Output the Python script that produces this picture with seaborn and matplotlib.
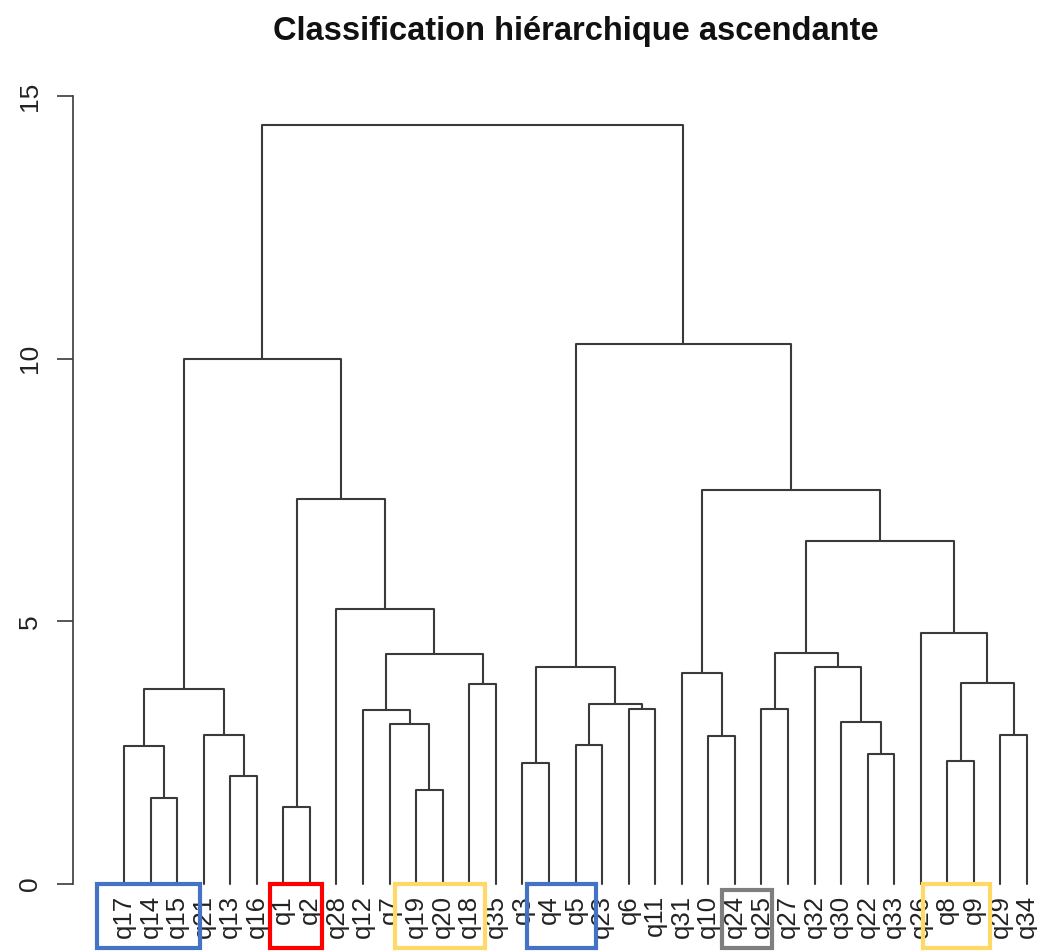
import pandas as pd
import numpy as np
import matplotlib
matplotlib.use("Agg")
import matplotlib.pyplot as plt
from matplotlib.patches import Rectangle
import seaborn as sns

# =============================================================================
# DATA: leaf order and merges of the hierarchical clustering
# =============================================================================
leaves = ["q17", "q14", "q15", "q21", "q13", "q16", "q1", "q2", "q28", "q12",
          "q7", "q19", "q20", "q18", "q35", "q3", "q4", "q5", "q23", "q6",
          "q11", "q31", "q10", "q24", "q25", "q27", "q32", "q30", "q22", "q33",
          "q26", "q8", "q9", "q29", "q34"]

# merge i creates node "n{i}" (left child, right child, height)
merge_left = ["q14", "q17", "q13", "q21", "n1", "q1", "q19", "q7", "q12", "q18",
              "n8", "q28", "n5", "n4", "q3", "q5", "q6", "n15", "n14", "q10",
              "q31", "q25", "q22", "q30", "q32", "n21", "q8", "q29", "n26", "q26",
              "n25", "n20", "n18", "n13"]
merge_right = ["q15", "n0", "q16", "n2", "n3", "q2", "q20", "n6", "n7", "q35",
               "n9", "n10", "n11", "n12", "q4", "q23", "q11", "n16", "n17", "q24",
               "n19", "q27", "q33", "n22", "n23", "n24", "q9", "q34", "n27", "n28",
               "n29", "n30", "n31", "n32"]
merge_height = [1.64, 2.63, 2.06, 2.84, 3.71, 1.47, 1.79, 3.05, 3.32, 3.81,
                4.38, 5.23, 7.33, 9.99, 2.30, 2.65, 3.33, 3.43, 4.14, 2.81,
                4.02, 3.33, 2.47, 3.09, 4.14, 4.39, 2.35, 2.84, 3.82, 4.78,
                6.53, 7.50, 10.28, 14.45]

# highlighted groups of leaves (first leaf, last leaf, colour)
box_first = ["q17", "q1", "q19", "q4", "q24", "q8"]
box_last = ["q15", "q2", "q18", "q5", "q25", "q9"]
box_color = ["#4472c4", "#ff0000", "#ffd966", "#4472c4", "#7f7f7f", "#ffd966"]

title = "Classification hi\u00e9rarchique ascendante"

# =============================================================================
# BUILD SEGMENTS
# =============================================================================
pos = {name: i + 1 for i, name in enumerate(leaves)}
height = {name: 0.0 for name in leaves}

rows = []
for i, (a, b, h) in enumerate(zip(merge_left, merge_right, merge_height)):
    xa, xb = pos[a], pos[b]
    pts = [(xa, height[a]), (xa, h), (xb, h), (xb, height[b])]
    for k, (x, y) in enumerate(pts):
        rows.append({"seg": i, "order": k, "x": x, "y": y})
    pos[f"n{i}"] = (xa + xb) / 2
    height[f"n{i}"] = h

segs = pd.DataFrame(rows)

# =============================================================================
# PLOT
# =============================================================================
sns.set_theme(style="white")
plt.rcParams["font.family"] = ["Liberation Sans", "DejaVu Sans"]

fig = plt.figure(figsize=(10.37, 9.51), dpi=100)
W, H = 1037, 951
ax_left, ax_right, ax_bottom, ax_top = 73, 1037, 884, 96
ax = fig.add_axes([ax_left / W, 1 - ax_bottom / H,
                   (ax_right - ax_left) / W, (ax_bottom - ax_top) / H])

line_col = "#3a3a3a"
sns.lineplot(data=segs, x="x", y="y", units="seg", estimator=None, sort=False,
             color=line_col, linewidth=1.5, ax=ax, legend=False)
for ln in ax.lines:
    ln.set_clip_on(False)

unit = (1027 - 124) / 34
ax.set_xlim(1 - (124 - ax_left) / unit, len(leaves) + (ax_right - 1027) / unit)
ax.set_ylim(0, 15)

# axis styling (R base graphics look)
for s in ["top", "right", "bottom"]:
    ax.spines[s].set_visible(False)
ax.spines["left"].set_bounds(0, 15)
ax.spines["left"].set_color(line_col)
ax.spines["left"].set_linewidth(1.2)
ax.set_xticks([])
ax.set_yticks([0, 5, 10, 15])
ax.set_yticklabels(["0", "5", "10", "15"])
ax.tick_params(axis="y", left=True, direction="out", length=11.5, width=1.2,
               color=line_col, pad=11, labelsize=19, labelrotation=90,
               labelcolor="#222222")
for lab in ax.get_yticklabels():
    lab.set_va("center")
ax.set_xlabel("")
ax.set_ylabel("")
ax.grid(False)

# leaf labels
for name in leaves:
    ax.annotate(name, xy=(pos[name], 0), xytext=(0, -8), textcoords="offset points",
                rotation=90, ha="center", va="top", fontsize=18.5, color="#222222",
                annotation_clip=False)

# highlight boxes
pad_left = [1.02, 0.5, 0.8, 0.83, 0.5, 0.9]
pad_right = [0.87, 0.45, 0.6, 0.77, 0.4, 0.6]
box_top = [0.0, 0.0, 0.0, 0.0, -0.11, 0.0]
box_bot = -1.22
for f, l, c, pl, pr, bt in zip(box_first, box_last, box_color, pad_left, pad_right, box_top):
    x0 = pos[f] - pl
    x1 = pos[l] + pr
    ax.add_patch(Rectangle((x0, box_bot), x1 - x0, bt - box_bot, fill=False,
                           edgecolor=c, linewidth=3, clip_on=False, zorder=5))

fig.text(576 / W, 1 - 40 / H, title, ha="center", va="baseline",
         fontsize=23.5, fontweight="bold", color="#111111")

plt.savefig("out.png", dpi=100)
